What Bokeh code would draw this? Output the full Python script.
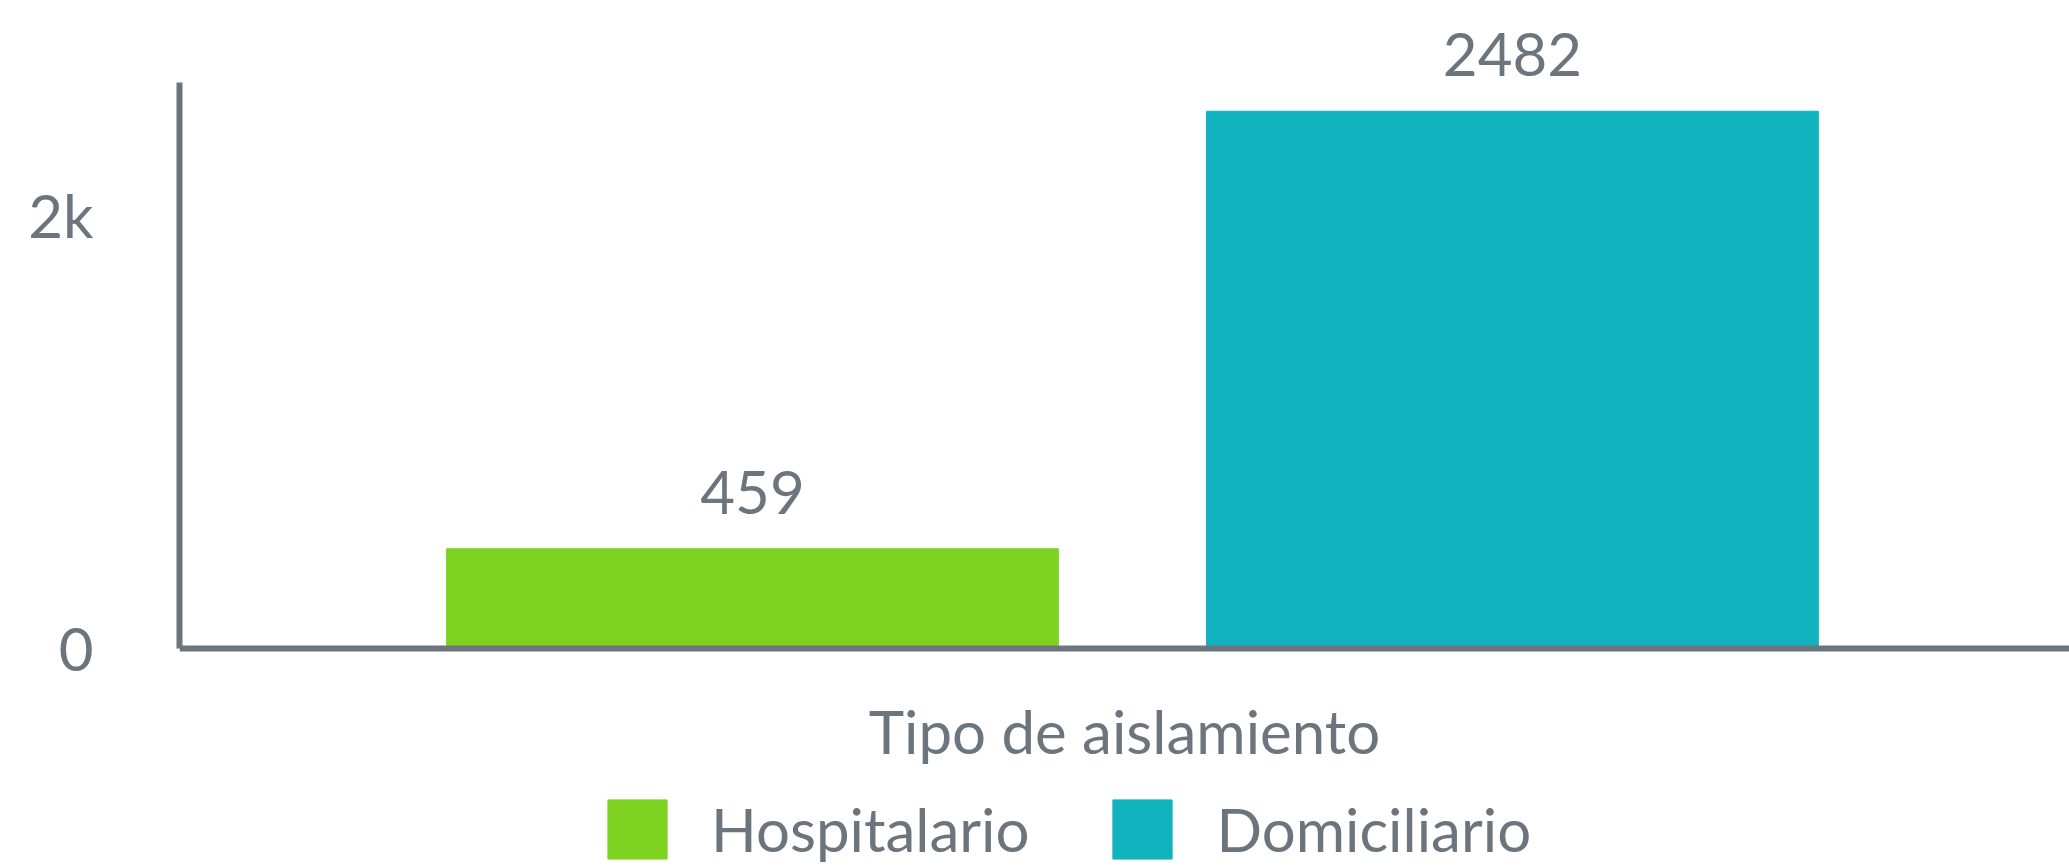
from bokeh.plotting import figure
from bokeh.models import ColumnDataSource, Range1d, FixedTicker, LabelSet, Legend, LegendItem
from bokeh.core.properties import value
from bokeh.embed import file_html
from bokeh.resources import INLINE

# ---- data ----
categories = ["Hospitalario", "Domiciliario"]
values = [459, 2482]
colors = ["#7ED321", "#10B2BD"]
y_ticks = [0, 2000]
y_tick_labels = ["0", "2k"]
x_title = "Tipo de aislamiento"

GRAY = "#6c757d"
FONT = "Lato"

src = ColumnDataSource(dict(
    x=list(range(len(categories))),
    top=values,
    color=colors,
    cat=categories,
    label=[str(v) for v in values],
))

p = figure(width=2069, height=866, output_backend="svg", toolbar_location=None,
           x_range=Range1d(-0.754, 1.733), y_range=Range1d(-1010, 2994),
           min_border_left=179, min_border_right=0, min_border_top=0,
           min_border_bottom=0)
p.outline_line_color = None
p.xgrid.visible = False
p.ygrid.visible = False

r = p.vbar(x="x", top="top", width=0.805, color="color", source=src)

labels = LabelSet(x="x", y="top", text="label", source=src, text_align="center",
                  text_baseline="alphabetic", y_offset=35, text_color=GRAY,
                  text_font=value(FONT), text_font_size="60px")
p.add_layout(labels)

# y axis
ya = p.yaxis[0]
ya.bounds = (0, 2615)
ya.ticker = FixedTicker(ticks=y_ticks)
ya.major_label_overrides = {t: l for t, l in zip(y_ticks, y_tick_labels)}
ya.axis_line_color = GRAY
ya.axis_line_width = 6
ya.major_tick_line_color = None
ya.minor_tick_line_color = None
ya.major_tick_out = 0
ya.major_tick_in = 0
ya.major_label_standoff = 86
ya.major_label_text_font = FONT
ya.major_label_text_font_size = "60px"
ya.major_label_text_color = GRAY

# x axis (sits at y = 0 inside the frame)
xa = p.xaxis[0]
xa.fixed_location = 0
xa.ticker = FixedTicker(ticks=[])
xa.axis_line_color = GRAY
xa.axis_line_width = 6
xa.major_tick_line_color = None
xa.minor_tick_line_color = None
xa.major_tick_out = 0
xa.major_tick_in = 0
xa.axis_label = x_title
xa.axis_label_text_font = FONT
xa.axis_label_text_font_size = "60px"
xa.axis_label_text_color = GRAY
xa.axis_label_text_font_style = "normal"
xa.axis_label_standoff = 46

# legend
items = [LegendItem(label=c, renderers=[r], index=i) for i, c in enumerate(categories)]
legend = Legend(items=items, orientation="horizontal", location=(421, 0),
                glyph_width=74, glyph_height=74, label_standoff=37, spacing=76,
                padding=0, margin=0, border_line_color=None, background_fill_alpha=0,
                label_text_font=FONT, label_text_font_size="60px",
                label_text_color=GRAY)
p.add_layout(legend)

open("out.html", "w").write(file_html(p, INLINE))
